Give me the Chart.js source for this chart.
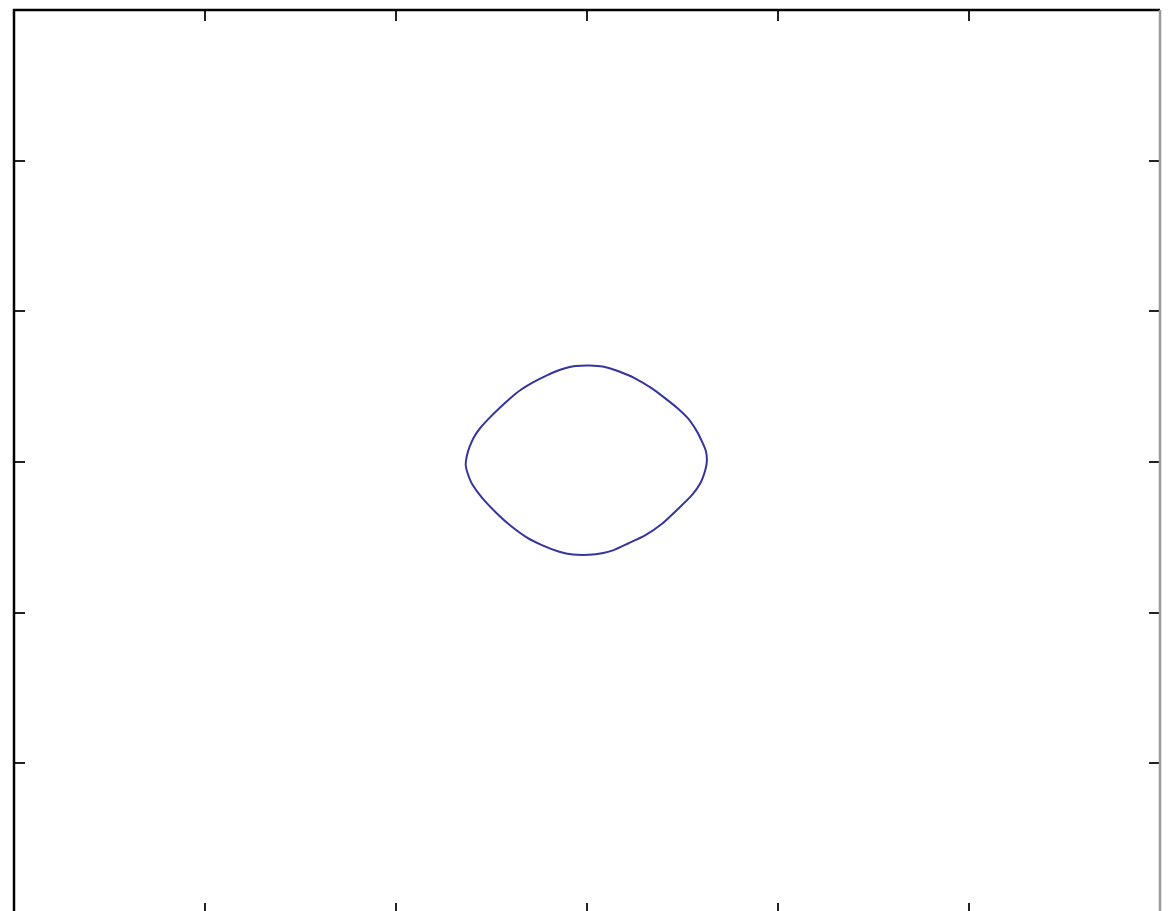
<!DOCTYPE html>
<html>
<head>
<meta charset="utf-8">
<script src="https://cdn.jsdelivr.net/npm/chart.js@4/dist/chart.umd.min.js"></script>
<style>
  html, body { margin: 0; padding: 0; background: #fff; overflow: hidden; }
  #wrap { width: 1172px; height: 915px; }
</style>
</head>
<body>
<div id="wrap"><canvas id="plot"></canvas></div>
<script>
// closed contour, traced counter-clockwise starting at the top
const curveX = [0.016, -0.070, -0.140, -0.210, -0.283, -0.350, -0.403, -0.455, -0.508, -0.560, -0.592, -0.615, -0.630, -0.635,
  -0.625, -0.600, -0.548, -0.473, -0.403, -0.316, -0.230, -0.145, -0.075, 0.010,
  0.085, 0.140, 0.215, 0.304, 0.393, 0.476, 0.548, 0.594, 0.620, 0.628, 0.622,
  0.604, 0.577, 0.529, 0.474, 0.408, 0.338, 0.254, 0.165, 0.088, 0.016];
const curveY = [0.641, 0.636, 0.612, 0.575, 0.528, 0.476, 0.422, 0.362, 0.296, 0.224, 0.165, 0.100, 0.035, -0.020,
  -0.075, -0.150, -0.240, -0.340, -0.420, -0.500, -0.555, -0.596, -0.614, -0.616,
  -0.604, -0.585, -0.541, -0.487, -0.410, -0.312, -0.222, -0.140, -0.050, 0.015, 0.075,
  0.130, 0.200, 0.289, 0.357, 0.424, 0.490, 0.554, 0.602, 0.632, 0.641];
const xLimits = [-3, 3];
const yLimits = [-3, 3];

const points = curveX.map((x, i) => ({ x, y: curveY[i] }));

// box frame with short inward ticks on every side
const boxAxes = {
  id: 'boxAxes',
  afterDraw(chart) {
    const { ctx, chartArea: a, scales } = chart;
    const len = 11;
    ctx.save();
    ctx.lineWidth = 2;
    ctx.strokeStyle = '#222';
    scales.x.ticks.forEach(t => {
      if (t.value <= xLimits[0] || t.value >= xLimits[1]) return;
      const px = Math.round(scales.x.getPixelForValue(t.value));
      ctx.beginPath();
      ctx.moveTo(px, a.top); ctx.lineTo(px, a.top + len);
      ctx.moveTo(px, a.bottom); ctx.lineTo(px, a.bottom - len);
      ctx.stroke();
    });
    scales.y.ticks.forEach(t => {
      if (t.value <= yLimits[0] || t.value >= yLimits[1]) return;
      const py = Math.round(scales.y.getPixelForValue(t.value));
      ctx.beginPath();
      ctx.moveTo(a.left, py); ctx.lineTo(a.left + len, py);
      ctx.moveTo(a.right, py); ctx.lineTo(a.right - len, py);
      ctx.stroke();
    });
    ctx.lineWidth = 2.5;
    ctx.strokeStyle = '#000';
    ctx.beginPath();
    ctx.moveTo(a.left, a.bottom); ctx.lineTo(a.left, a.top); ctx.lineTo(a.right, a.top);
    ctx.moveTo(a.left, a.bottom); ctx.lineTo(a.right, a.bottom);
    ctx.stroke();
    ctx.strokeStyle = '#999';
    ctx.beginPath();
    ctx.moveTo(a.right, a.top); ctx.lineTo(a.right, a.bottom);
    ctx.stroke();
    ctx.restore();
  }
};

new Chart(document.getElementById('plot').getContext('2d'), {
  type: 'scatter',
  data: {
    datasets: [{
      data: points,
      showLine: true,
      borderColor: '#3535a0',
      borderWidth: 2,
      pointRadius: 0,
      tension: 0.2
    }]
  },
  options: {
    responsive: true,
    maintainAspectRatio: false,
    animation: false,
    layout: { padding: { left: 14, top: 10, right: 12, bottom: 1 } },
    plugins: { legend: { display: false }, tooltip: { enabled: false } },
    scales: {
      x: { display: false, min: xLimits[0], max: xLimits[1], ticks: { stepSize: 1 } },
      y: { display: false, min: yLimits[0], max: yLimits[1], ticks: { stepSize: 1 } }
    }
  },
  plugins: [boxAxes]
});
</script>
</body>
</html>
